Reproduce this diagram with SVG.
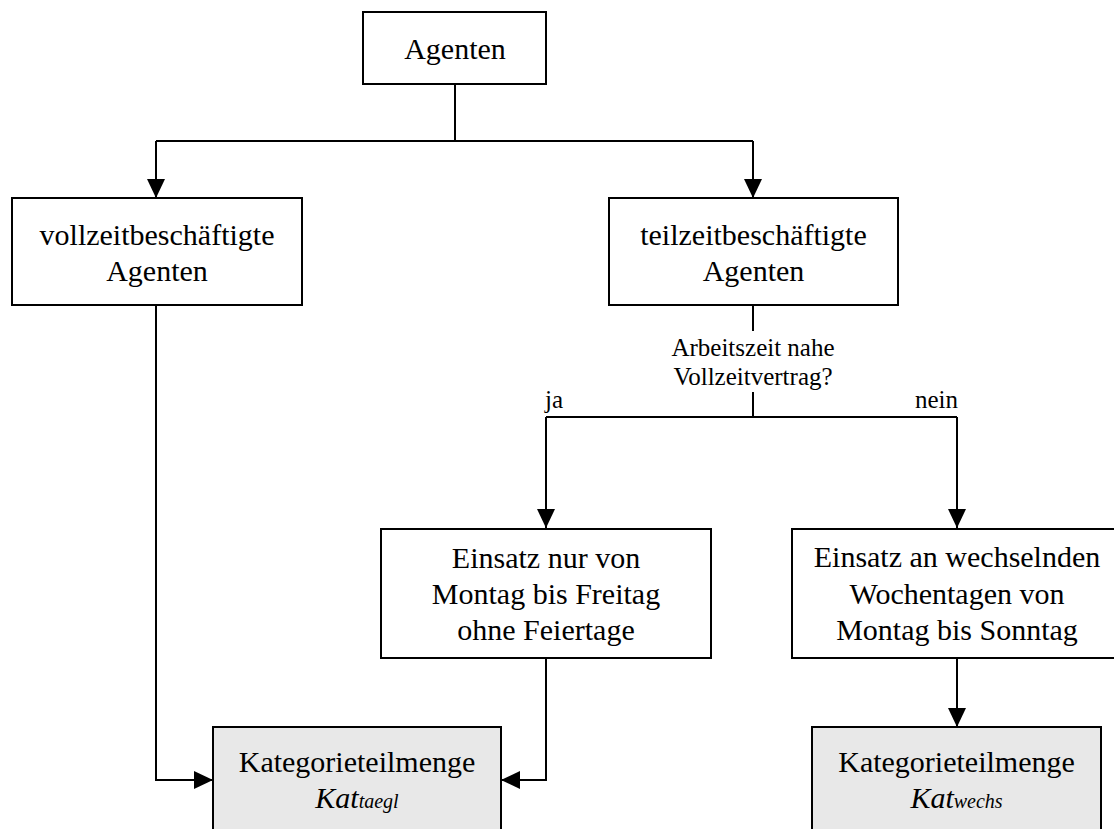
<svg xmlns="http://www.w3.org/2000/svg" width="1114" height="829" viewBox="0 0 1114 829">
<style>
.box{fill:#ffffff;stroke:#000000;stroke-width:2}
.cat{fill:#e8e8e8;stroke:#000000;stroke-width:2}
.t{font-family:"Liberation Serif","Times New Roman",serif;font-size:30px;fill:#000000;text-anchor:middle}
.s{font-family:"Liberation Serif","Times New Roman",serif;font-size:25px;fill:#000000}
.c{fill:none;stroke:#000000;stroke-width:2}
.a{marker-end:url(#arr)}
</style>
<defs>
<marker id="arr" markerUnits="userSpaceOnUse" markerWidth="20" markerHeight="20" viewBox="0 0 20 20" refX="19" refY="10" orient="auto">
<path d="M0,1 L19,10 L0,19 Z" fill="#000000"/>
</marker>
</defs>
<rect width="1114" height="829" fill="#ffffff"/>
<g id="connectors">
<path class="c" d="M455,84 V141"/>
<path class="c" d="M156,141 H753"/>
<path class="c a" d="M156,141 V198"/>
<path class="c a" d="M753,141 V198"/>
<path class="c a" d="M156,305 V780 H213"/>
<path class="c" d="M753,305 V331"/>
<path class="c" d="M753,392 V417"/>
<path class="c" d="M546,417 H957"/>
<path class="c a" d="M546,417 V528"/>
<path class="c a" d="M957,417 V528"/>
<path class="c a" d="M546,658 V780 H501"/>
<path class="c a" d="M957,658 V727"/>
<text class="s" x="753" y="356" text-anchor="middle">Arbeitszeit nahe</text>
<text class="s" x="753" y="385" text-anchor="middle">Vollzeitvertrag?</text>
<text class="s" x="545" y="408">ja</text>
<text class="s" x="958" y="408" text-anchor="end">nein</text>
</g>
<g id="agenten">
<rect class="box" x="363" y="12" width="183" height="72"/>
<text class="t" x="455" y="59">Agenten</text>
</g>
<g id="vollzeit">
<rect class="box" x="12" y="198" width="290" height="107"/>
<text class="t" x="157" y="245">vollzeitbeschäftigte</text>
<text class="t" x="157" y="281">Agenten</text>
</g>
<g id="teilzeit">
<rect class="box" x="609" y="198" width="289" height="107"/>
<text class="t" x="753.5" y="245">teilzeitbeschäftigte</text>
<text class="t" x="753.5" y="281">Agenten</text>
</g>
<g id="montag-freitag">
<rect class="box" x="381" y="529" width="330" height="129"/>
<text class="t" x="546" y="568">Einsatz nur von</text>
<text class="t" x="546" y="604">Montag bis Freitag</text>
<text class="t" x="546" y="640">ohne Feiertage</text>
</g>
<g id="wechselnd">
<rect class="box" x="792" y="529" width="330" height="129"/>
<text class="t" x="957" y="567">Einsatz an wechselnden</text>
<text class="t" x="957" y="604">Wochentagen von</text>
<text class="t" x="957" y="640">Montag bis Sonntag</text>
</g>
<g id="kat-taegl">
<rect class="cat" x="213" y="727" width="288" height="120"/>
<text class="t" x="357" y="772">Kategorieteilmenge</text>
<text class="t" x="357" y="808" font-style="italic">Kat<tspan font-size="20px">taegl</tspan></text>
</g>
<g id="kat-wechs">
<rect class="cat" x="812" y="727" width="289" height="120"/>
<text class="t" x="956.5" y="772">Kategorieteilmenge</text>
<text class="t" x="956.5" y="808" font-style="italic">Kat<tspan font-size="20px">wechs</tspan></text>
</g>
</svg>
